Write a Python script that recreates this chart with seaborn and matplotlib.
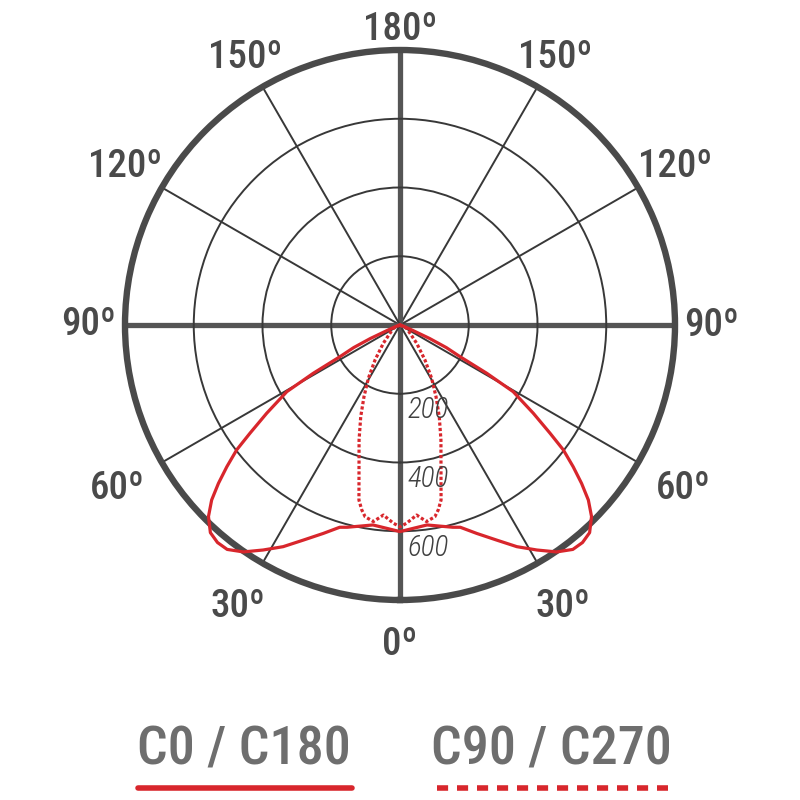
import os
import numpy as np
import pandas as pd
import matplotlib
matplotlib.use("Agg")
import matplotlib.pyplot as plt
import matplotlib.transforms as mtransforms
from matplotlib import font_manager
from matplotlib.lines import Line2D
import seaborn as sns

# luminous intensity (cd/klm), half profile,
# angle measured from the nadir (0 deg = straight down)
c0_angles = [0, 7.7, 14.6, 16.6, 20.2, 24.2, 27.8, 31.3, 34.6, 37.6, 40, 42.4, 45,
             47.1, 48.9, 50.7, 52.6, 54.2, 56.5, 59.5, 60.9, 62.2, 64, 65.5, 67, 70, 80, 90]
c0_values = [601, 587, 608, 614, 646, 686, 729, 766, 802, 824, 826, 818, 788,
             748, 701, 651, 598, 538, 465, 382, 289, 197, 150, 95, 40, 15, 3, 0]

c90_angles = [0, 1.9, 5.0, 7.7, 10.3, 11.7, 13.2, 15.8, 19.6, 23.2, 26.7, 30.7, 35.5, 42.4, 63.4, 90]
c90_values = [587, 577, 555, 577, 567, 549, 523, 438, 355, 290, 233, 180, 125, 72, 22, 0]

series_names = ["C0 / C180", "C90 / C270"]
ring_values = [200, 400, 600]
r_max = 800
tick_angles = [0, 30, 60, 90, 120, 150, 180, 210, 240, 270, 300, 330]
tick_labels = ["0º", "30º", "60º", "90º", "120º", "150º", "180º",
               "150º", "120º", "90º", "60º", "30º"]

RED = "#d8262c"
DARK = "#4a4a4a"


def pick_font(prefs, fallback):
    files = {os.path.splitext(os.path.basename(f.fname))[0].lower(): f.fname
             for f in font_manager.fontManager.ttflist}
    for p in prefs:
        if p.lower() in files:
            return font_manager.FontProperties(fname=files[p.lower()])
    return fallback


def mirror(angles, values):
    a = np.asarray(angles, float)
    v = np.asarray(values, float)
    theta = np.deg2rad(np.concatenate([-a[:0:-1], a]))
    r = np.concatenate([v[:0:-1], v])
    return theta, r


sns.set_theme(style="white")

bold_font = pick_font(["LiberationSansNarrow-Bold", "RobotoCondensed-Medium",
                       "RobotoCondensed-Bold", "DejaVuSansCondensed-Bold"],
                      font_manager.FontProperties(family="DejaVu Sans", weight="bold",
                                                  stretch="condensed"))
italic_font = pick_font(["LiberationSansNarrow-Italic", "RobotoCondensed-LightItalic",
                         "RobotoCondensed-Italic", "DejaVuSansCondensed-Oblique"],
                        font_manager.FontProperties(family="DejaVu Sans", style="italic",
                                                    stretch="condensed"))

frames = []
for name, (angles, values) in zip(series_names, [(c0_angles, c0_values), (c90_angles, c90_values)]):
    theta, r = mirror(angles, values)
    frames.append(pd.DataFrame({"theta": theta, "r": r, "series": name}))
df = pd.concat(frames, ignore_index=True)

fig = plt.figure(figsize=(8, 8), dpi=100)
fig.patch.set_facecolor("white")
ax = fig.add_axes([0.15625, 0.25, 0.6875, 0.6875], projection="polar")
ax.set_theta_zero_location("S")

sns.lineplot(data=df, x="theta", y="r", hue="series", style="series",
             palette={n: RED for n in series_names},
             dashes={series_names[0]: "", series_names[1]: (1.0, 0.7)},
             estimator=None, sort=False, legend=False, lw=2.3, ax=ax, zorder=5)
for line in ax.lines:
    line.set_clip_on(False)
    line.set_solid_joinstyle("round")

ax.set_xlabel("")
ax.set_ylabel("")
ax.set_ylim(0, r_max)
ax.set_yticks(ring_values)
ax.set_yticklabels([])
ax.set_xticks(np.deg2rad(tick_angles))
ax.set_xticklabels([])
ax.tick_params(length=0)
ax.grid(True, color="#383838", lw=1.4)
for ang, gl in zip(tick_angles, ax.xaxis.get_gridlines()):
    if ang % 90 == 0:
        gl.set_linewidth(3.8)
        gl.set_color("#555555")
ax.spines["polar"].set_linewidth(4.6)
ax.spines["polar"].set_color(DARK)

# angle labels around the rim
label_r = {0: 930, 30: 945, 60: 950, 90: 905, 120: 925, 150: 900, 180: 860}
for ang, lab in zip(tick_angles, tick_labels):
    key = ang if ang <= 180 else 360 - ang
    ax.text(np.deg2rad(ang), label_r[key], lab, ha="center", va="center",
            fontproperties=bold_font, fontsize=28, color=DARK, clip_on=False)

# ring values along the nadir
shift = mtransforms.offset_copy(ax.transData, fig=fig, x=8, y=0, units="dots")
for rv in ring_values:
    ax.text(0, rv + 48, str(rv), transform=shift, ha="left", va="center",
            fontproperties=italic_font, fontsize=21, color="#404040", zorder=6)

# legend below the diagram
legend_x = [0.305, 0.689]
for i, name in enumerate(series_names):
    fig.text(legend_x[i], 1 - 750 / 800, name, ha="center", va="center",
             fontproperties=bold_font, fontsize=39, color="#6e6e6e")
left = [138 / 800, 437 / 800]
right = [352 / 800, 668 / 800]
for i in range(2):
    ls = "-" if i == 0 else (0, (2.0, 1.6))
    fig.add_artist(Line2D([left[i], right[i]], [1 - 788 / 800] * 2, color=RED, lw=4, ls=ls,
                          solid_capstyle="round", transform=fig.transFigure))

fig.savefig("out.png", dpi=100, facecolor="white")
